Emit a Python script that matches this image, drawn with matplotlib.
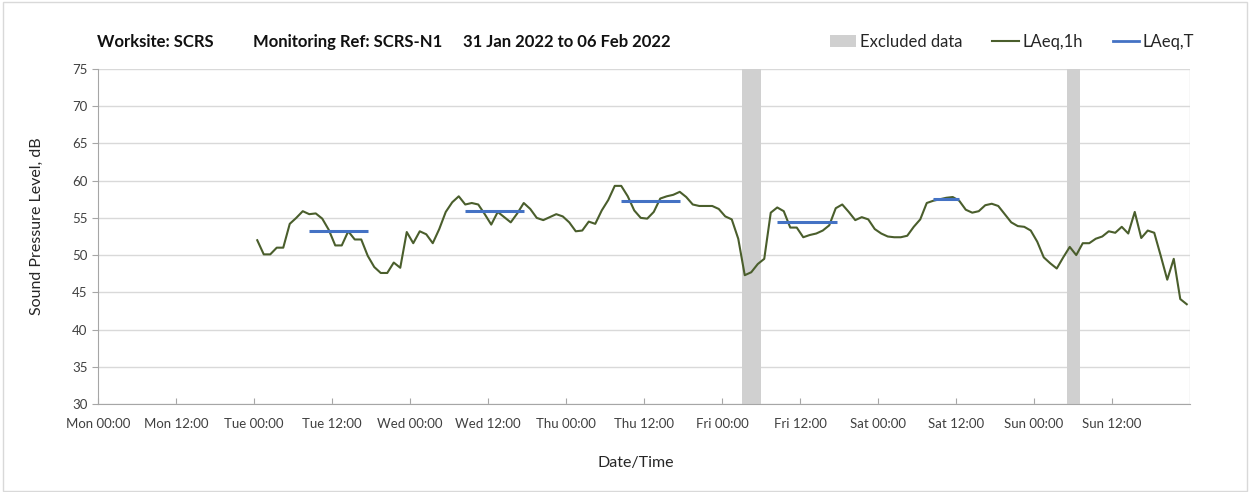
import matplotlib
matplotlib.use("Agg")
import matplotlib.pyplot as plt
import numpy as np
from matplotlib.patches import Patch, Rectangle
from matplotlib.lines import Line2D

plt.rcParams['font.family'] = ['Lato', 'DejaVu Sans']

# ---------------- data ----------------
tick_labels = ["Mon 00:00", "Mon 12:00", "Tue 00:00", "Tue 12:00", "Wed 00:00",
               "Wed 12:00", "Thu 00:00", "Thu 12:00", "Fri 00:00", "Fri 12:00",
               "Sat 00:00", "Sat 12:00", "Sun 00:00", "Sun 12:00"]

# hourly LAeq,1h values, first value for Tue 00:00-01:00 (hour 24 from Mon 00:00)
first_hour = 24
laeq_1h = [
    52.0, 50.1, 50.1, 51.0, 51.0, 54.2, 55.0, 55.9, 55.5, 55.6, 54.9, 53.4,
    51.3, 51.3, 53.2, 52.1, 52.1, 49.9, 48.4, 47.6, 47.6, 49.0, 48.3, 53.1,
    51.6, 53.2, 52.8, 51.6, 53.5, 55.8, 57.1, 57.9, 56.8, 57.0, 56.8, 55.5,
    54.1, 55.8, 55.1, 54.4, 55.6, 57.0, 56.2, 55.0, 54.7, 55.1, 55.5, 55.2,
    54.4, 53.2, 53.3, 54.5, 54.2, 56.0, 57.4, 59.3, 59.3, 57.9, 56.0, 55.0,
    54.9, 55.8, 57.6, 57.9, 58.1, 58.5, 57.8, 56.8, 56.6, 56.6, 56.6, 56.2,
    55.2, 54.8, 52.2, 47.3, 47.7, 48.8, 49.5, 55.7, 56.4, 55.9, 53.7, 53.7,
    52.4, 52.7, 52.9, 53.3, 54.0, 56.3, 56.8, 55.8, 54.7, 55.1, 54.8, 53.5,
    52.9, 52.5, 52.4, 52.4, 52.6, 53.8, 54.8, 57.0, 57.3, 57.5, 57.7, 57.8,
    57.3, 56.1, 55.7, 55.9, 56.7, 56.9, 56.6, 55.5, 54.4, 53.9, 53.8, 53.3,
    51.8, 49.7, 48.9, 48.2, 49.7, 51.1, 50.0, 51.6, 51.6, 52.2, 52.5, 53.2,
    53.0, 53.8, 52.9, 55.8, 52.3, 53.3, 53.0, 49.9, 46.7, 49.5, 44.1, 43.4,
]

# LAeq,T daytime periods (hours from Mon 00:00) and levels
laeq_t_start = [32.4, 56.4, 80.4, 104.5, 128.5]
laeq_t_end = [41.6, 65.6, 89.6, 113.7, 132.5]
laeq_t_level = [53.3, 55.9, 57.3, 54.5, 57.6]

# excluded periods (hours from Mon 00:00)
excl_start = [99, 149]
excl_end = [102, 151]

title_parts = ["Worksite: SCRS", "Monitoring Ref: SCRS-N1", "31 Jan 2022 to 06 Feb 2022"]

# ---------------- plot ----------------
hours = [first_hour + 0.5 + i for i in range(len(laeq_1h))]

fig = plt.figure(figsize=(12.51, 4.92), dpi=100)
fig.patches.append(Rectangle((0.002, 0.003), 0.995, 0.993, transform=fig.transFigure,
                             fill=False, edgecolor='#d9d9d9', linewidth=1.0))
ax = fig.add_axes([98 / 1251, 1 - 404 / 492, (1190 - 98) / 1251, (404 - 69) / 492])

green = '#4a5e2c'
blue = '#4472c4'
grey = '#d0d0d0'

for s, e in zip(excl_start, excl_end):
    ax.axvspan(s, e, color=grey, lw=0, zorder=1)

ax.plot(hours, laeq_1h, color=green, lw=1.5, zorder=3)
ax.hlines(laeq_t_level, laeq_t_start, laeq_t_end, color=blue, lw=2.2, zorder=4)

ax.set_xlim(0, 168)
ax.set_ylim(30, 75)
ax.set_xticks([12 * i for i in range(len(tick_labels))])
ax.set_xticklabels(tick_labels, fontsize=9.5, color='#404040')
ax.set_xticks([24 * i for i in range(8)], minor=True)
ax.set_yticks(range(30, 80, 5))
ax.tick_params(axis='y', labelsize=9.5, labelcolor='#404040', length=4, color='#a6a6a6')
ax.tick_params(axis='x', which='major', length=4, color='#a6a6a6', direction='in', pad=10)
ax.tick_params(axis='x', which='minor', length=0)

ax.grid(axis='y', which='major', color='#d9d9d9', lw=1.0, zorder=0)
ax.grid(axis='x', which='minor', color='#d9d9d9', lw=1.0, zorder=0)
ax.set_axisbelow(True)
for sp in ['top', 'right']:
    ax.spines[sp].set_visible(False)
for sp in ['left', 'bottom']:
    ax.spines[sp].set_color('#a6a6a6')

ax.set_ylabel('Sound Pressure Level, dB', fontsize=11.5, color='#262626')
ax.yaxis.set_label_coords((44 - 98) / 1092, (404 - 226) / 335)
ax.set_xlabel('Date/Time', fontsize=11.5, color='#262626')
ax.xaxis.set_label_coords((636 - 98) / 1092, (404 - 456) / 335)

for xpix, part in zip([97, 253, 463], title_parts):
    fig.text(xpix / 1251, 1 - 42 / 492, part, fontsize=12, fontweight='bold',
             va='center', ha='left', color='#111111')

handles = [Patch(facecolor=grey, edgecolor='none'),
           Line2D([], [], color=green, lw=1.5),
           Line2D([], [], color=blue, lw=2.0)]
fig.legend(handles, ['Excluded data', 'LAeq,1h', 'LAeq,T'], loc='center',
           bbox_to_anchor=(1012 / 1251, 1 - 42 / 492), ncol=3, frameon=False,
           fontsize=12, handlelength=1.6, handletextpad=0.2, columnspacing=1.8,
           labelcolor='#262626')

fig.savefig('out.png', dpi=100)
